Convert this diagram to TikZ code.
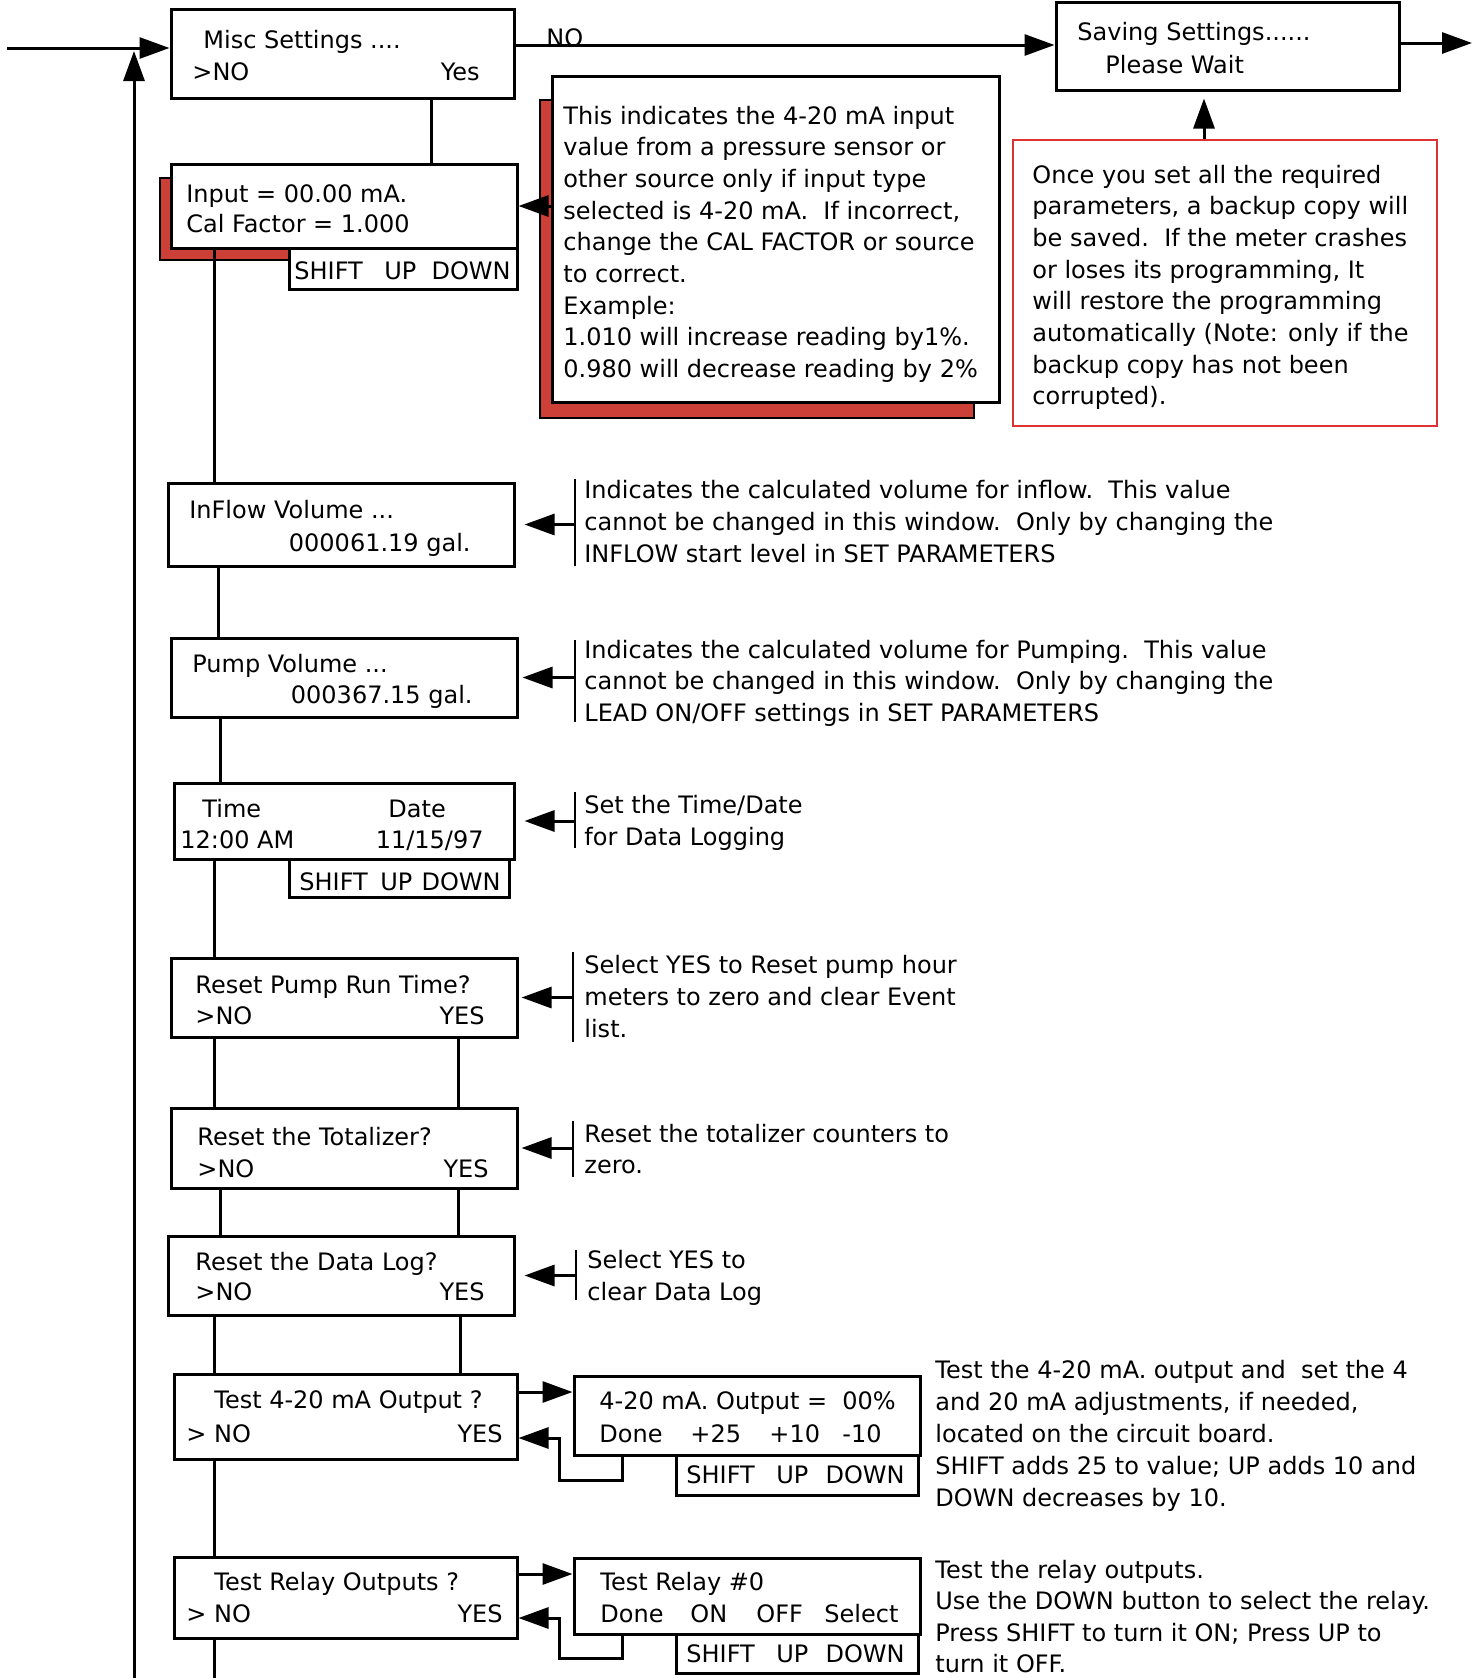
\documentclass[tikz,border=0pt]{standalone}
\usepackage{fontspec}
\setmainfont{DejaVu Sans}
\usetikzlibrary{arrows.meta,fit}
\definecolor{shadowred}{RGB}{204,64,56}
\definecolor{linered}{RGB}{222,50,50}
\tikzset{
  box/.style={draw, line width=1.5pt, fill=white, inner sep=0pt},
  notebox/.style={draw=linered, line width=1.2pt, inner sep=0pt},
  shade/.style={fill=shadowred, draw=black, line width=0.8pt},
  lbl/.style={font=\fontsize{12}{14}\selectfont, inner sep=0pt, anchor=base west},
  lblr/.style={font=\fontsize{12}{14}\selectfont, inner sep=0pt, anchor=base east},
  note/.style={font=\fontsize{12}{15}\selectfont, inner sep=0pt, anchor=base west},
  arr/.style={-{Triangle[length=15pt,width=10.5pt]}, line width=1.5pt},
  link/.style={line width=1.5pt},
  bar/.style={line width=1.2pt}
}
\newcommand\notelines[5]{%
  \foreach \nl [count=\k from 0] in {#5} {\node[note] (#1-\k) at (#2, {#3+\k*#4}) {\nl};}}
\begin{document}
\begin{tikzpicture}[x=0.5pt,y=-0.5pt]
\useasboundingbox (0,0) rectangle (1483,1678);
% shadows
\fill[shade] (160,178) rectangle (289,260);
\fill[shade] (540,100) rectangle (974,418);
% boxes
\node[box, fit={(171,9) (514,98)}] (misc) {};
\node[box, fit={(1056,2) (1399,90)}] (saving) {};
\node[box, fit={(171,164) (517,248)}] (input) {};
\node[box, fit={(289,248) (517,289)}] (inputkeys) {};
\node[box, fit={(552,76) (999,402)}] (note1) {};
\node[notebox, fit={(1013,140) (1437,426)}] (backup) {};
\node[box, fit={(168,483) (514,566)}] (inflow) {};
\node[box, fit={(171,638) (517,717)}] (pump) {};
\node[box, fit={(174,783) (514,859)}] (timedate) {};
\node[box, fit={(289,859) (509,897)}] (timekeys) {};
\node[box, fit={(171,958) (517,1037)}] (resetpump) {};
\node[box, fit={(171,1108) (517,1188)}] (totalizer) {};
\node[box, fit={(168,1236) (514,1315)}] (datalog) {};
\node[box, fit={(174,1374) (517,1459)}] (test420) {};
\node[box, fit={(574,1376) (920,1455)}] (output) {};
\node[box, fit={(676,1455) (918,1495)}] (outkeys) {};
\node[box, fit={(174,1557) (517,1638)}] (relay) {};
\node[box, fit={(574,1558) (920,1634)}] (relayout) {};
\node[box, fit={(676,1634) (918,1673)}] (relaykeys) {};
% main flow
\coordinate (entry) at (7,48);
\coordinate (loopbot) at (134,1678);
\coordinate (looptop) at (134,51);
\coordinate (exit) at (1472,43);
\coordinate (spineend) at (214,1678);
\draw[arr] (entry) -- (entry -| misc.west);
\draw[arr] (loopbot) -- (looptop);
\draw[arr] (misc.east |- 0,45) -- (saving.west |- 0,45);
\node[lbl] (nolbl) at (546,46) {NO};
\draw[arr] (saving.east |- exit) -- (exit);
\draw[arr, shorten >=3.5pt] (1204,0 |- backup.north) -- (1204,0 |- saving.south);
\draw[link] (431,0 |- misc.south) -- (431,0 |- input.north);
\draw[link] (214,0 |- input.south) -- (214,0 |- inflow.north);
\draw[link] (218,0 |- inflow.south) -- (218,0 |- pump.north);
\draw[link] (220,0 |- pump.south) -- (220,0 |- timedate.north);
\draw[link] (214,0 |- timedate.south) -- (214,0 |- resetpump.north);
\draw[link] (214,0 |- resetpump.south) -- (214,0 |- totalizer.north);
\draw[link] (458,0 |- resetpump.south) -- (458,0 |- totalizer.north);
\draw[link] (220,0 |- totalizer.south) -- (220,0 |- datalog.north);
\draw[link] (458,0 |- totalizer.south) -- (458,0 |- datalog.north);
\draw[link] (214,0 |- datalog.south) -- (214,0 |- test420.north);
\draw[link] (460,0 |- datalog.south) -- (460,0 |- test420.north);
\draw[link] (214,0 |- test420.south) -- (214,0 |- relay.north);
\draw[link] (214,0 |- relay.south) -- (spineend);
% note arrows
\draw[arr] (note1.west |- input.east) -- (input.east);
\draw[bar] (575,479) -- (575,566);
\draw[arr, shorten >=4.5pt] (575,0 |- inflow.east) -- (inflow.east);
\draw[bar] (575,640) -- (575,722);
\draw[arr, shorten >=2pt] (575,0 |- pump.east) -- (pump.east);
\draw[bar] (575,792) -- (575,848);
\draw[arr, shorten >=4.5pt] (575,0 |- timedate.east) -- (timedate.east);
\draw[bar] (573,952) -- (573,1042);
\draw[arr, shorten >=1.5pt] (573,0 |- resetpump.east) -- (resetpump.east);
\draw[bar] (573,1121) -- (573,1177);
\draw[arr, shorten >=1.5pt] (573,0 |- totalizer.east) -- (totalizer.east);
\draw[bar] (576,1250) -- (576,1300);
\draw[arr, shorten >=4.5pt] (576,0 |- datalog.east) -- (datalog.east);
% test loops
\draw[arr] (test420.east |- 0,1392) -- (output.west |- 0,1392);
\draw[arr] (622,0 |- output.south) -- (622,1480) -- (559,1480) -- (559,1438) -- (test420.east |- 0,1438);
\draw[arr] (relay.east |- 0,1574) -- (relayout.west |- 0,1574);
\draw[arr] (622,0 |- relayout.south) -- (622,1658) -- (559,1658) -- (559,1618) -- (relay.east |- 0,1618);
% box texts
\node[lbl] (t-misc1) at (203,48) {Misc Settings ....};
\node[lbl] (t-misc2) at (192,80) {>NO};
\node[lblr] (t-misc3) at (480,80) {Yes};
\node[lbl] (t-sav1) at (1077,40) {Saving Settings......};
\node[lbl] (t-sav2) at (1105,73) {Please Wait};
\node[lbl] (t-in1) at (186,202) {Input = 00.00 mA.};
\node[lbl] (t-in2) at (186,232) {Cal Factor = 1.000};
\node[lbl] (t-ink1) at (294,279) {SHIFT};
\node[lbl] (t-ink2) at (384,279) {UP};
\node[lblr] (t-ink3) at (511,279) {DOWN};
\node[lbl] (t-inf1) at (189,518) {InFlow Volume ...};
\node[lblr] (t-inf2) at (471,551) {000061.19 gal.};
\node[lbl] (t-pv1) at (192,672) {Pump Volume ...};
\node[lblr] (t-pv2) at (473,703) {000367.15 gal.};
\node[lbl] (t-td1) at (202,817) {Time};
\node[lbl] (t-td2) at (388,817) {Date};
\node[lbl] (t-td3) at (180,848) {12:00 AM};
\node[lblr] (t-td4) at (484,848) {11/15/97};
\node[lbl] (t-tdk1) at (299,890) {SHIFT};
\node[lbl] (t-tdk2) at (380,890) {UP};
\node[lblr] (t-tdk3) at (501,890) {DOWN};
\node[lbl] (t-rp1) at (195,993) {Reset Pump Run Time?};
\node[lbl] (t-rp2) at (195,1024) {>NO};
\node[lblr] (t-rp3) at (485,1024) {YES};
\node[lbl] (t-tz1) at (197,1145) {Reset the Totalizer?};
\node[lbl] (t-tz2) at (197,1177) {>NO};
\node[lblr] (t-tz3) at (489,1177) {YES};
\node[lbl] (t-dl1) at (195,1270) {Reset the Data Log?};
\node[lbl] (t-dl2) at (195,1300) {>NO};
\node[lblr] (t-dl3) at (485,1300) {YES};
\node[lbl] (t-t41) at (214,1408) {Test 4-20 mA Output ?};
\node[lbl] (t-t42) at (186,1442) {> NO};
\node[lblr] (t-t43) at (503,1442) {YES};
\node[lbl] (t-o1) at (599,1409) {4-20 mA. Output =};
\node[lblr] (t-o2) at (896,1409) {00\%};
\node[lbl] (t-o3) at (599,1442) {Done};
\node[lbl] (t-o4) at (690,1442) {+25};
\node[lbl] (t-o5) at (769,1442) {+10};
\node[lbl] (t-o6) at (842,1442) {-10};
\node[lbl] (t-ok1) at (686,1483) {SHIFT};
\node[lbl] (t-ok2) at (776,1483) {UP};
\node[lblr] (t-ok3) at (905,1483) {DOWN};
\node[lbl] (t-r1) at (214,1590) {Test Relay Outputs ?};
\node[lbl] (t-r2) at (186,1622) {> NO};
\node[lblr] (t-r3) at (503,1622) {YES};
\node[lbl] (t-ro1) at (600,1590) {Test Relay \#0};
\node[lbl] (t-ro2) at (600,1622) {Done};
\node[lbl] (t-ro3) at (690,1622) {ON};
\node[lbl] (t-ro4) at (756,1622) {OFF};
\node[lbl] (t-ro5) at (824,1622) {Select};
\node[lbl] (t-rk1) at (686,1662) {SHIFT};
\node[lbl] (t-rk2) at (776,1662) {UP};
\node[lblr] (t-rk3) at (905,1662) {DOWN};
% notes
\notelines{n1}{563}{124}{31.7}{{This indicates the 4-20 mA input},{value from a pressure sensor or},{other source only if input type},{selected is 4-20 mA.\ \ If incorrect,},{change the CAL FACTOR or source},{to correct.},{Example:},{1.010 will increase reading by1\%.},{0.980 will decrease reading by 2\%}}
\notelines{n2}{1032}{183}{31.7}{{Once you set all the required},{parameters, a backup copy will},{be saved.\ \ If the meter crashes},{or loses its programming, It},{will restore the programming},{automatically (Note: only if the},{backup copy has not been},{corrupted).}}
\notelines{n3}{584}{498}{32}{{Indicates the calculated volume for inflow.\ \ This value},{cannot be changed in this window.\ \ Only by changing the},{INFLOW start level in SET PARAMETERS}}
\notelines{n4}{584}{658}{31.5}{{Indicates the calculated volume for Pumping.\ \ This value},{cannot be changed in this window.\ \ Only by changing the},{LEAD ON/OFF settings in SET PARAMETERS}}
\notelines{n5}{584}{813}{32}{{Set the Time/Date},{for Data Logging}}
\notelines{n6}{584}{973}{32}{{Select YES to Reset pump hour},{meters to zero and clear Event},{list.}}
\notelines{n7}{584}{1142}{31.5}{{Reset the totalizer counters to},{zero.}}
\notelines{n8}{587}{1268}{32}{{Select YES to},{clear Data Log}}
\notelines{n9}{935}{1378}{32.2}{{Test the 4-20 mA. output and\ \ set the 4},{and 20 mA adjustments, if needed,},{located on the circuit board.},{SHIFT adds 25 to value; UP adds 10 and},{DOWN decreases by 10.}}
\notelines{n10}{935}{1578}{31.5}{{Test the relay outputs.},{Use the DOWN button to select the relay.},{Press SHIFT to turn it ON; Press UP to},{turn it OFF.}}
\end{tikzpicture}
\end{document}
